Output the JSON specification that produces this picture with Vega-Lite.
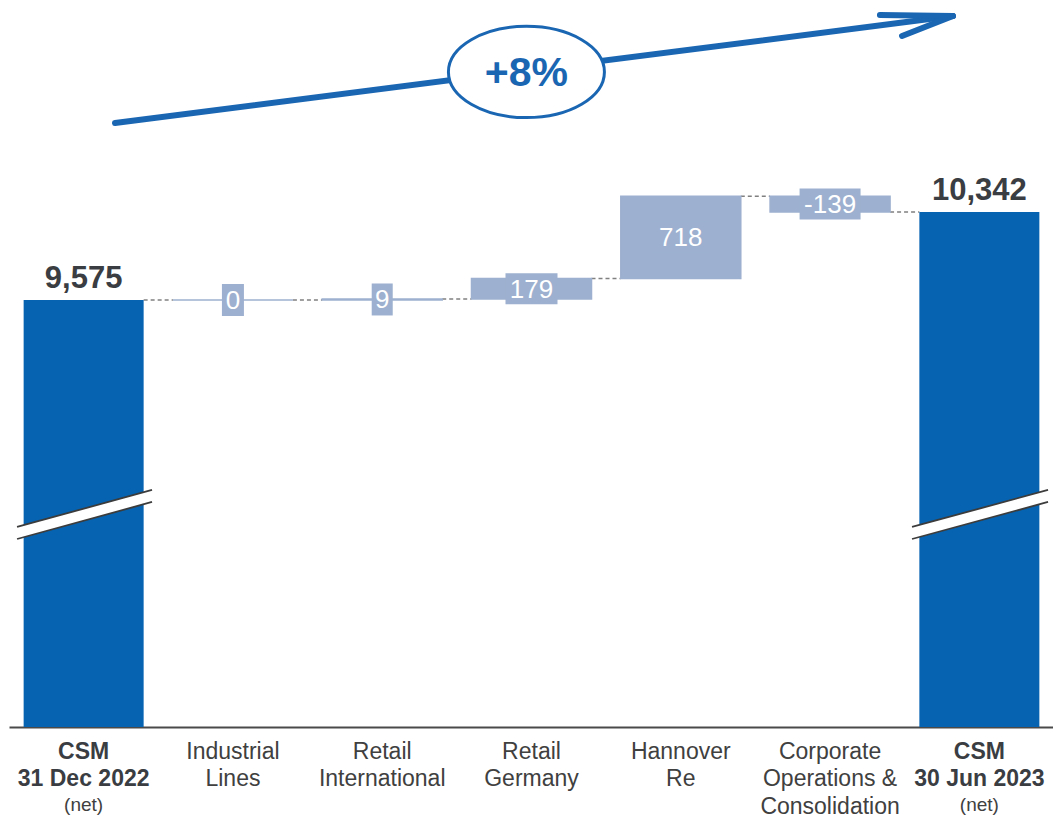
{
  "$schema": "https://vega.github.io/schema/vega-lite/v6.json",
  "width": 1045,
  "height": 727,
  "autosize": {"type": "none"},
  "padding": {"left": 9, "top": 0, "right": 0, "bottom": 92},
  "background": "white",
  "config": {
    "view": {"stroke": null},
    "font": "Liberation Sans",
    "axisX": {"domainColor": "#4a4a4a", "domainWidth": 2, "labels": false, "ticks": false, "grid": false, "title": null}
  },
  "datasets": {
    "bars": [
      {"i": 0, "label": "CSM\n31 Dec 2022", "type": "total", "start": null, "end": 9575, "value": 9575},
      {"i": 1, "label": "Industrial\nLines", "type": "delta", "start": 9575, "end": 9575, "value": 0},
      {"i": 2, "label": "Retail\nInternational", "type": "delta", "start": 9575, "end": 9584, "value": 9},
      {"i": 3, "label": "Retail\nGermany", "type": "delta", "start": 9584, "end": 9763, "value": 179},
      {"i": 4, "label": "Hannover\nRe", "type": "delta", "start": 9763, "end": 10481, "value": 718},
      {"i": 5, "label": "Corporate\nOperations &\nConsolidation", "type": "delta", "start": 10481, "end": 10342, "value": -139},
      {"i": 6, "label": "CSM\n30 Jun 2023", "type": "total", "start": null, "end": 10342, "value": 10342}
    ],
    "decor": [
      {"part": "band", "x": -0.446, "y": 7542, "x2": 0.458, "y2": 7865},
      {"part": "band", "x": 5.549, "y": 7542, "x2": 6.460, "y2": 7865},
      {"part": "edge", "x": -0.446, "y": 7595, "x2": 0.458, "y2": 7918},
      {"part": "edge", "x": -0.446, "y": 7490, "x2": 0.458, "y2": 7813},
      {"part": "edge", "x": 5.549, "y": 7595, "x2": 6.460, "y2": 7918},
      {"part": "edge", "x": 5.549, "y": 7490, "x2": 6.460, "y2": 7813},
      {"part": "arrow", "x": 0.210, "y": 11119, "x2": 5.823, "y2": 12052},
      {"part": "arrow", "x": 5.334, "y": 12061, "x2": 5.823, "y2": 12052},
      {"part": "arrow", "x": 5.482, "y": 11878, "x2": 5.823, "y2": 12052}
    ],
    "badge": [{"x": 2.966, "y": 11564, "text": "+8%"}]
  },
  "encoding": {
    "x": {"type": "quantitative", "scale": {"domain": [-0.5, 6.5], "nice": false, "zero": false}},
    "y": {"type": "quantitative", "scale": {"domain": [5850, 12192], "nice": false, "zero": false}}
  },
  "layer": [
    {
      "data": {"name": "bars"},
      "transform": [{"filter": "datum.i < 6"}],
      "mark": {"type": "rule", "color": "#808080", "strokeWidth": 1.5, "strokeDash": [4, 3], "xOffset": 60, "x2Offset": 89.3},
      "encoding": {
        "x": {"field": "i", "type": "quantitative", "axis": {"title": null, "labels": false, "ticks": false, "grid": false, "domain": true, "domainColor": "#4a4a4a", "domainWidth": 2}},
        "x2": {"field": "i"},
        "y": {"field": "end", "type": "quantitative", "axis": null}
      }
    },
    {
      "data": {"name": "bars"},
      "transform": [{"filter": "datum.type === 'delta'"}],
      "mark": {"type": "rect", "color": "#9db0cf", "stroke": "#9db0cf", "strokeWidth": 1.5, "xOffset": -60, "x2Offset": 60},
      "encoding": {
        "x": {"field": "i", "type": "quantitative"},
        "x2": {"field": "i"},
        "y": {"field": "start", "type": "quantitative"},
        "y2": {"field": "end"}
      }
    },
    {
      "data": {"name": "bars"},
      "transform": [{"filter": "datum.type === 'total'"}],
      "mark": {"type": "rect", "color": "#0563b2", "xOffset": -60, "x2Offset": 60},
      "encoding": {
        "x": {"field": "i", "type": "quantitative"},
        "x2": {"field": "i"},
        "y": {"field": "end", "type": "quantitative"},
        "y2": {"datum": 5850}
      }
    },
    {
      "data": {"name": "decor"},
      "transform": [{"filter": "datum.part === 'band'"}],
      "mark": {"type": "rule", "color": "white", "strokeWidth": 11.6, "strokeCap": "butt"},
      "encoding": {
        "x": {"field": "x", "type": "quantitative"},
        "x2": {"field": "x2"},
        "y": {"field": "y", "type": "quantitative"},
        "y2": {"field": "y2"}
      }
    },
    {
      "data": {"name": "decor"},
      "transform": [{"filter": "datum.part === 'edge'"}],
      "mark": {"type": "rule", "color": "#3c3c3c", "strokeWidth": 1.8},
      "encoding": {
        "x": {"field": "x", "type": "quantitative"},
        "x2": {"field": "x2"},
        "y": {"field": "y", "type": "quantitative"},
        "y2": {"field": "y2"}
      }
    },
    {
      "data": {"name": "bars"},
      "transform": [{"filter": "datum.type === 'delta'"}, {"calculate": "(datum.start + datum.end) / 2", "as": "mid"}],
      "mark": {"type": "point", "filled": true, "opacity": 1, "color": "#9db0cf", "size": 3844, "strokeWidth": 0},
      "encoding": {
        "x": {"field": "i", "type": "quantitative"},
        "y": {"field": "mid", "type": "quantitative"},
        "shape": {
          "field": "value", "type": "nominal", "legend": null,
          "scale": {
            "domain": [0, 9, 179, 718, -139],
            "range": [
              "M -0.355 -0.516 L 0.355 -0.516 L 0.355 0.516 L -0.355 0.516 Z",
              "M -0.339 -0.516 L 0.339 -0.516 L 0.339 0.516 L -0.339 0.516 Z",
              "M -0.839 -0.5 L 0.839 -0.5 L 0.839 0.5 L -0.839 0.5 Z",
              "M -0.9 -0.5 L 0.9 -0.5 L 0.9 0.5 L -0.9 0.5 Z",
              "M -0.984 -0.5 L 0.984 -0.5 L 0.984 0.5 L -0.984 0.5 Z"
            ]
          }
        }
      }
    },
    {
      "data": {"name": "bars"},
      "transform": [{"filter": "datum.type === 'delta'"}, {"calculate": "(datum.start + datum.end) / 2", "as": "mid"}],
      "mark": {"type": "text", "color": "white", "fontSize": 26, "baseline": "middle", "align": "center", "dy": 1},
      "encoding": {
        "x": {"field": "i", "type": "quantitative"},
        "y": {"field": "mid", "type": "quantitative"},
        "text": {"field": "value", "type": "nominal"}
      }
    },
    {
      "data": {"name": "bars"},
      "transform": [{"filter": "datum.type === 'total'"}],
      "mark": {"type": "text", "color": "#3a3d42", "fontSize": 31, "fontWeight": "bold", "baseline": "alphabetic", "align": "center", "dy": -12},
      "encoding": {
        "x": {"field": "i", "type": "quantitative"},
        "y": {"field": "end", "type": "quantitative"},
        "text": {"field": "value", "type": "quantitative", "format": ","}
      }
    },
    {
      "data": {"name": "bars"},
      "transform": [{"filter": "datum.type === 'delta'"}],
      "mark": {"type": "text", "color": "#404040", "fontSize": 23, "baseline": "alphabetic", "align": "center", "lineBreak": "\n", "lineHeight": 27.8, "dy": 31.5},
      "encoding": {
        "x": {"field": "i", "type": "quantitative"},
        "y": {"datum": 5850},
        "text": {"field": "label"}
      }
    },
    {
      "data": {"name": "bars"},
      "transform": [{"filter": "datum.type === 'total'"}],
      "mark": {"type": "text", "color": "#3a3d42", "fontSize": 23, "fontWeight": "bold", "baseline": "alphabetic", "align": "center", "lineBreak": "\n", "lineHeight": 27.8, "dy": 31.5},
      "encoding": {
        "x": {"field": "i", "type": "quantitative"},
        "y": {"datum": 5850},
        "text": {"field": "label"}
      }
    },
    {
      "data": {"name": "bars"},
      "transform": [{"filter": "datum.type === 'total'"}],
      "mark": {"type": "text", "color": "#404040", "fontSize": 19, "baseline": "alphabetic", "align": "center", "dy": 83.5},
      "encoding": {
        "x": {"field": "i", "type": "quantitative"},
        "y": {"datum": 5850},
        "text": {"value": "(net)"}
      }
    },
    {
      "data": {"name": "decor"},
      "transform": [{"filter": "datum.part === 'arrow'"}],
      "mark": {"type": "rule", "color": "#1a66b3", "strokeWidth": 6, "strokeCap": "round"},
      "encoding": {
        "x": {"field": "x", "type": "quantitative"},
        "x2": {"field": "x2"},
        "y": {"field": "y", "type": "quantitative"},
        "y2": {"field": "y2"}
      }
    },
    {
      "data": {"name": "badge"},
      "mark": {
        "type": "point",
        "shape": "M -1 0 C -1 -0.3231 -0.5523 -0.585 0 -0.585 C 0.5523 -0.585 1 -0.3231 1 0 C 1 0.3231 0.5523 0.585 0 0.585 C -0.5523 0.585 -1 0.3231 -1 0 Z",
        "size": 24336, "fill": "white", "stroke": "#1a66b3", "strokeWidth": 3, "opacity": 1, "fillOpacity": 1, "strokeOpacity": 1
      },
      "encoding": {
        "x": {"field": "x", "type": "quantitative"},
        "y": {"field": "y", "type": "quantitative"}
      }
    },
    {
      "data": {"name": "badge"},
      "mark": {"type": "text", "color": "#1a66b3", "fontSize": 41, "fontWeight": "bold", "baseline": "middle", "align": "center", "dy": 2},
      "encoding": {
        "x": {"field": "x", "type": "quantitative"},
        "y": {"field": "y", "type": "quantitative"},
        "text": {"field": "text"}
      }
    }
  ]
}
